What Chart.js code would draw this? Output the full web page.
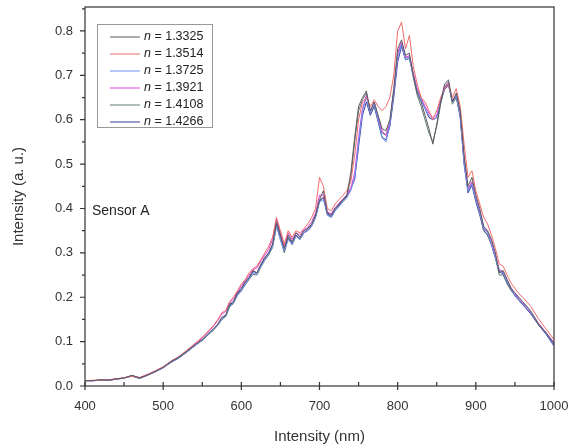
<!DOCTYPE html>
<html>
<head>
<meta charset="utf-8">
<script src="https://cdn.jsdelivr.net/npm/chart.js@4"></script>
<style>
  body { margin: 0; background: #fff; }
  #wrap { width: 571px; height: 448px; }
</style>
</head>
<body>
<div id="wrap"><canvas id="myChart" width="571" height="448"></canvas></div>
<script>
// wavelengths (nm)
const xs = [400,410,420,430,440,450,460,470,480,490,
  500,510,520,530,540,550,560,565,570,575,
  580,585,590,595,600,605,610,615,620,625,
  630,635,640,645,650,655,660,665,670,675,
  680,685,690,695,700,705,710,715,720,725,
  730,735,740,745,750,755,760,765,770,775,
  780,785,790,795,800,805,810,815,820,825,
  830,835,840,845,850,855,860,865,870,875,
  880,885,890,895,900,905,910,915,920,925,
  930,935,940,945,950,955,960,970,980,990,1000];

const labels = ["1.3325","1.3514","1.3725","1.3921","1.4108","1.4266"];
const colors = ["#5a5a5a","#f06a6a","#6f8ff0","#e040d8","#5f7878","#3c3c9c"];

const s1 = [.012,.012,.014,.013,.016,.018,.024,.018,.025,.033,
  .042,.055,.065,.078,.092,.105,.122,.130,.140,.155,
  .160,.185,.190,.210,.220,.235,.245,.260,.255,.275,
  .290,.300,.320,.370,.340,.310,.340,.325,.345,.335,
  .350,.355,.365,.385,.420,.440,.390,.385,.400,.410,
  .420,.430,.480,.560,.630,.650,.665,.620,.640,.610,
  .580,.575,.600,.670,.760,.780,.745,.750,.700,.660,
  .640,.610,.580,.545,.590,.640,.680,.690,.640,.660,
  .620,.520,.450,.470,.430,.400,.360,.350,.330,.300,
  .255,.260,.240,.220,.210,.200,.190,.170,.140,.120,.095];
const s2 = [.012,.013,.013,.014,.016,.019,.022,.019,.026,.034,
  .043,.056,.066,.080,.095,.110,.128,.138,.150,.165,
  .170,.190,.200,.215,.230,.240,.255,.265,.270,.285,
  .300,.315,.335,.380,.350,.320,.350,.335,.350,.345,
  .355,.365,.380,.400,.470,.450,.400,.395,.410,.420,
  .430,.440,.460,.520,.600,.640,.650,.630,.645,.630,
  .620,.630,.650,.700,.800,.820,.760,.790,.720,.680,
  .650,.640,.620,.600,.620,.650,.670,.680,.650,.670,
  .630,.545,.470,.485,.440,.410,.380,.365,.340,.310,
  .275,.270,.250,.232,.220,.208,.200,.180,.152,.128,.105];
const s3 = [.012,.012,.013,.013,.015,.018,.023,.018,.025,.033,
  .041,.054,.064,.077,.090,.104,.120,.128,.138,.150,
  .158,.180,.188,.205,.215,.230,.242,.255,.252,.270,
  .285,.298,.315,.360,.330,.305,.330,.320,.338,.330,
  .345,.350,.360,.380,.415,.420,.385,.380,.395,.405,
  .415,.425,.440,.470,.550,.620,.650,.615,.635,.600,
  .560,.550,.590,.660,.740,.770,.735,.740,.700,.665,
  .645,.625,.610,.600,.605,.640,.670,.680,.640,.655,
  .610,.500,.440,.455,.420,.390,.355,.345,.320,.290,
  .260,.255,.235,.220,.205,.195,.185,.165,.140,.118,.092];
const s4 = [.012,.012,.013,.014,.016,.018,.023,.019,.026,.034,
  .043,.056,.066,.079,.094,.108,.126,.136,.148,.162,
  .168,.188,.196,.212,.225,.238,.250,.262,.266,.282,
  .295,.308,.330,.375,.345,.315,.345,.330,.345,.340,
  .352,.358,.370,.390,.430,.430,.392,.388,.402,.412,
  .422,.430,.445,.480,.560,.625,.655,.620,.640,.605,
  .575,.565,.595,.665,.750,.775,.740,.745,.705,.670,
  .650,.630,.615,.605,.610,.645,.672,.682,.642,.658,
  .615,.510,.445,.460,.425,.395,.358,.348,.325,.295,
  .262,.258,.238,.222,.208,.198,.188,.168,.142,.120,.098];
const s5 = [.012,.012,.014,.013,.016,.018,.024,.018,.025,.033,
  .042,.054,.064,.076,.090,.103,.119,.127,.137,.150,
  .156,.178,.186,.204,.214,.228,.240,.252,.250,.268,
  .283,.295,.312,.360,.330,.300,.332,.318,.338,.330,
  .345,.350,.360,.380,.415,.425,.385,.380,.395,.405,
  .415,.425,.470,.550,.620,.645,.660,.615,.632,.600,
  .570,.565,.590,.660,.750,.772,.740,.742,.695,.655,
  .630,.600,.570,.550,.585,.635,.675,.685,.635,.650,
  .610,.510,.440,.460,.420,.390,.352,.340,.320,.290,
  .250,.250,.230,.215,.205,.195,.185,.165,.138,.118,.094];
const s6 = [.012,.012,.013,.013,.015,.018,.022,.017,.024,.032,
  .041,.053,.063,.076,.090,.103,.120,.128,.138,.152,
  .158,.182,.190,.208,.218,.232,.244,.258,.255,.272,
  .288,.300,.318,.365,.335,.305,.335,.322,.340,.332,
  .346,.352,.362,.382,.418,.425,.388,.382,.398,.408,
  .418,.428,.445,.465,.540,.610,.640,.610,.630,.595,
  .560,.555,.585,.650,.730,.765,.735,.738,.700,.665,
  .645,.625,.605,.600,.605,.640,.668,.678,.640,.652,
  .605,.500,.435,.452,.415,.385,.350,.340,.318,.288,
  .258,.252,.232,.218,.203,.193,.183,.163,.138,.116,.090];

const series = [s1, s2, s3, s4, s5, s6];
const FONT = "'Liberation Sans', Arial, sans-serif";

// frame, tick marks, legend box and "Sensor A"
const framePlugin = {
  id: "frame",
  afterDraw(chart) {
    const { ctx, chartArea: a, scales: { x, y } } = chart;
    ctx.save();
    ctx.strokeStyle = "#333";
    ctx.lineWidth = 1.2;
    ctx.strokeRect(a.left, a.top, a.right - a.left, a.bottom - a.top);
    ctx.beginPath();
    for (let v = 400; v <= 1000; v += 50) {
      const px = x.getPixelForValue(v);
      ctx.moveTo(px, a.bottom + (v % 100 === 0 ? 4 : 0));
      ctx.lineTo(px, a.bottom - 4);
    }
    for (let i = 0; i <= 17; i++) {
      const py = y.getPixelForValue(i * 0.05);
      ctx.moveTo(a.left - (i % 2 === 0 ? 5 : 3), py);
      ctx.lineTo(a.left, py);
    }
    ctx.stroke();

    // legend
    ctx.fillStyle = "#fff";
    ctx.fillRect(97, 24, 115, 103);
    ctx.strokeStyle = "#999";
    ctx.lineWidth = 1;
    ctx.strokeRect(97.5, 24.5, 115, 103);
    ctx.textBaseline = "middle";
    labels.forEach((lab, i) => {
      const ly = 37 + i * 17;
      ctx.strokeStyle = colors[i];
      ctx.beginPath();
      ctx.moveTo(110, ly);
      ctx.lineTo(140, ly);
      ctx.stroke();
      ctx.fillStyle = "#222";
      ctx.font = "italic 12.5px " + FONT;
      ctx.fillText("n", 144, ly);
      const w = ctx.measureText("n").width;
      ctx.font = "12.5px " + FONT;
      ctx.fillText(" = " + lab, 144 + w, ly);
    });

    ctx.font = "14px " + FONT;
    ctx.fillStyle = "#222";
    ctx.fillText("Sensor A", 92, 211);
    ctx.restore();
  }
};

new Chart(document.getElementById("myChart").getContext("2d"), {
  type: "line",
  data: {
    datasets: series.map((s, i) => ({
      label: "n = " + labels[i],
      data: xs.map((x, j) => ({ x: x, y: s[j] })),
      borderColor: colors[i],
      borderWidth: 1,
      pointRadius: 0,
      tension: 0,
      fill: false,
    })),
  },
  options: {
    responsive: false,
    animation: false,
    layout: { padding: { left: 0, right: 17, top: 7, bottom: 0 } },
    plugins: { legend: { display: false }, tooltip: { enabled: false } },
    scales: {
      x: {
        type: "linear",
        min: 400,
        max: 1000,
        grid: { display: false, drawTicks: false },
        border: { display: false },
        ticks: { stepSize: 100, padding: 13, color: "#333", font: { family: FONT, size: 13 },
          callback: (v) => String(v) },
        title: { display: true, text: "Intensity (nm)", color: "#333", font: { family: FONT, size: 15 }, padding: { top: 0, bottom: 2 } },
        afterFit: (s) => { s.height = 62; s.paddingLeft = 0; s.paddingRight = 0; },
      },
      y: {
        min: 0,
        max: 0.854,
        grid: { display: false, drawTicks: false },
        border: { display: false },
        ticks: { stepSize: 0.1, padding: 12, color: "#333", font: { family: FONT, size: 13 },
          callback: (v) => v.toFixed(1) },
        afterBuildTicks: (s) => {
          s.ticks = s.ticks.filter((t) => Math.abs(t.value * 10 - Math.round(t.value * 10)) < 1e-6);
        },
        title: { display: true, text: "Intensity (a. u.)", color: "#333", font: { family: FONT, size: 15 }, padding: { top: 10, bottom: 0 } },
        afterFit: (s) => { s.width = 85; s.paddingTop = 0; s.paddingBottom = 0; },
      },
    },
  },
  plugins: [framePlugin],
});
</script>
</body>
</html>
